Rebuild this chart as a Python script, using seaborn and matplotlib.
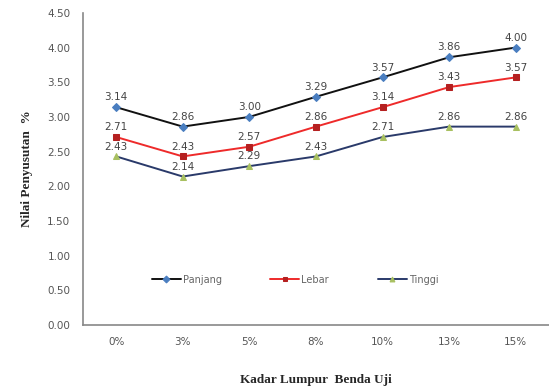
import matplotlib
matplotlib.use("Agg")
import matplotlib.pyplot as plt
import seaborn as sns
import pandas as pd

kadar = ["0%", "3%", "5%", "8%", "10%", "13%", "15%"]
panjang = [3.14, 2.86, 3.00, 3.29, 3.57, 3.86, 4.00]
lebar = [2.71, 2.43, 2.57, 2.86, 3.14, 3.43, 3.57]
tinggi = [2.43, 2.14, 2.29, 2.43, 2.71, 2.86, 2.86]
yticks = [0.0, 0.5, 1.0, 1.5, 2.0, 2.5, 3.0, 3.5, 4.0, 4.5]

series = {"Panjang": panjang, "Lebar": lebar, "Tinggi": tinggi}
rows = []
for name, vals in series.items():
    for i, (k, v) in enumerate(zip(kadar, vals)):
        rows.append({"pos": i, "kadar": k, "nilai": v, "seri": name})
df = pd.DataFrame(rows)

sns.set_theme(style="white")
plt.rcParams["font.family"] = ["DejaVu Sans"]

fig = plt.figure(figsize=(5.49, 3.91), dpi=100)
ax = fig.add_axes([0.151, 0.169, 0.849, 0.798])

line_colors = {"Panjang": "#111111", "Lebar": "#ee2a2a", "Tinggi": "#2a3a6a"}
marker_face = {"Panjang": "#4a7ec0", "Lebar": "#b52020", "Tinggi": "#a8c060"}
marker_shape = {"Panjang": "D", "Lebar": "s", "Tinggi": "^"}

sns.lineplot(data=df, x="pos", y="nilai", hue="seri", style="seri",
             palette=line_colors, markers=marker_shape, dashes=False,
             linewidth=1.4, markersize=4.5, ax=ax, legend=True)

# recolor the markers to their fill colors
for line, name in zip(ax.get_lines()[:3], series.keys()):
    line.set_markerfacecolor(marker_face[name])
    line.set_markeredgecolor(marker_face[name])

narrow = "Liberation Sans Narrow"
for name, vals in series.items():
    for i, v in enumerate(vals):
        ax.annotate(f"{v:.2f}", (i, v), xytext=(0, 3.5), textcoords="offset points",
                    ha="center", va="bottom", fontsize=7.5, color="#444444",
                    family=narrow)

ax.set_xlim(-0.5, len(kadar) - 0.5)
ax.set_ylim(0, 4.5)
ax.set_xticks(range(len(kadar)))
ax.set_xticklabels(kadar, fontsize=7.5, color="#555555", family=narrow)
ax.set_yticks(yticks)
ax.set_yticklabels([f"{t:.2f}" for t in yticks], fontsize=7.5, color="#555555",
                   family=narrow)
ax.tick_params(axis="both", length=0, pad=9)

for s in ["top", "right"]:
    ax.spines[s].set_visible(False)
for s in ["left", "bottom"]:
    ax.spines[s].set_color("#888888")
    ax.spines[s].set_linewidth(1.2)

ax.set_xlabel("Kadar Lumpur  Benda Uji", fontsize=9.5, fontweight="bold",
              family="Liberation Serif", labelpad=19)
ax.set_ylabel("Nilai Penyusutan  %", fontsize=9.5, fontweight="bold",
              family="Liberation Serif", labelpad=10)

handles, labels = ax.get_legend_handles_labels()
for h, name in zip(handles, labels):
    h.set_markerfacecolor(marker_face[name])
    h.set_markeredgecolor(marker_face[name])
    h.set_markersize(3.5)
ax.legend(handles, labels, ncol=3, loc="center", bbox_to_anchor=(0.455, 0.145),
          frameon=False, prop={"family": narrow, "size": 7}, handlelength=3,
          columnspacing=5.0, labelcolor="#666666", handletextpad=0.2)

fig.savefig("out.png", dpi=100)
